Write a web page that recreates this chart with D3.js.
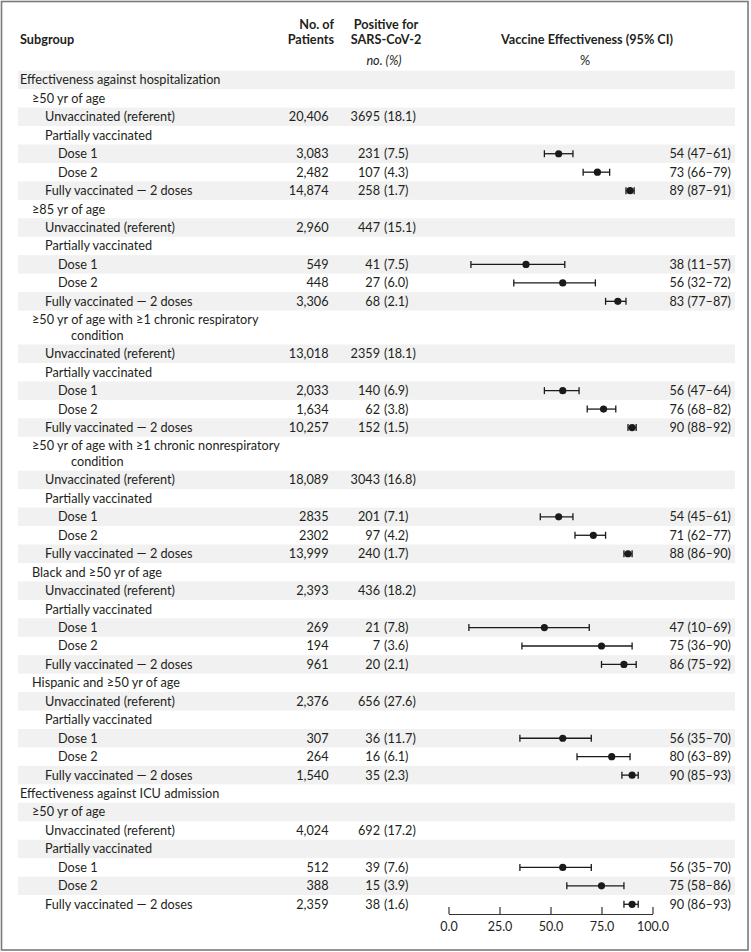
<!DOCTYPE html>
<html><head><meta charset="utf-8">
<script src="https://cdn.jsdelivr.net/npm/d3@7"></script>
<style>
html,body{margin:0;padding:0;background:#fff;}
svg{display:block;font-family:Lato,"Noto Sans",sans-serif;}
</style></head><body>
<svg id="chart" width="751" height="952"></svg>
<script>
// ---------- data ----------
const rowLabels = [
  "Effectiveness against hospitalization",
  "≥50 yr of age",
  "Unvaccinated (referent)", "Partially vaccinated", "Dose 1", "Dose 2", "Fully vaccinated — 2 doses",
  "≥85 yr of age",
  "Unvaccinated (referent)", "Partially vaccinated", "Dose 1", "Dose 2", "Fully vaccinated — 2 doses",
  "≥50 yr of age with ≥1 chronic respiratory\ncondition",
  "Unvaccinated (referent)", "Partially vaccinated", "Dose 1", "Dose 2", "Fully vaccinated — 2 doses",
  "≥50 yr of age with ≥1 chronic nonrespiratory\ncondition",
  "Unvaccinated (referent)", "Partially vaccinated", "Dose 1", "Dose 2", "Fully vaccinated — 2 doses",
  "Black and ≥50 yr of age",
  "Unvaccinated (referent)", "Partially vaccinated", "Dose 1", "Dose 2", "Fully vaccinated — 2 doses",
  "Hispanic and ≥50 yr of age",
  "Unvaccinated (referent)", "Partially vaccinated", "Dose 1", "Dose 2", "Fully vaccinated — 2 doses",
  "Effectiveness against ICU admission",
  "≥50 yr of age",
  "Unvaccinated (referent)", "Partially vaccinated", "Dose 1", "Dose 2", "Fully vaccinated — 2 doses"
];
const rowKinds = [
  "section",
  "group", "status", "status", "dose", "dose", "status",
  "group", "status", "status", "dose", "dose", "status",
  "group", "status", "status", "dose", "dose", "status",
  "group", "status", "status", "dose", "dose", "status",
  "group", "status", "status", "dose", "dose", "status",
  "group", "status", "status", "dose", "dose", "status",
  "section",
  "group", "status", "status", "dose", "dose", "status"
];
const patientCounts = [
  "",
  "", "20,406", "", "3,083", "2,482", "14,874",
  "", "2,960", "", "549", "448", "3,306",
  "", "13,018", "", "2,033", "1,634", "10,257",
  "", "18,089", "", "2835", "2302", "13,999",
  "", "2,393", "", "269", "194", "961",
  "", "2,376", "", "307", "264", "1,540",
  "",
  "", "4,024", "", "512", "388", "2,359"
];
const positiveCounts = [
  null,
  null, 3695, null, 231, 107, 258,
  null, 447, null, 41, 27, 68,
  null, 2359, null, 140, 62, 152,
  null, 3043, null, 201, 97, 240,
  null, 436, null, 21, 7, 20,
  null, 656, null, 36, 16, 35,
  null,
  null, 692, null, 39, 15, 38
];
const positivePct = [
  null,
  null, 18.1, null, 7.5, 4.3, 1.7,
  null, 15.1, null, 7.5, 6.0, 2.1,
  null, 18.1, null, 6.9, 3.8, 1.5,
  null, 16.8, null, 7.1, 4.2, 1.7,
  null, 18.2, null, 7.8, 3.6, 2.1,
  null, 27.6, null, 11.7, 6.1, 2.3,
  null,
  null, 17.2, null, 7.6, 3.9, 1.6
];
const veEstimate = [
  null,
  null, null, null, 54, 73, 89,
  null, null, null, 38, 56, 83,
  null, null, null, 56, 76, 90,
  null, null, null, 54, 71, 88,
  null, null, null, 47, 75, 86,
  null, null, null, 56, 80, 90,
  null,
  null, null, null, 56, 75, 90
];
const veLower = [
  null,
  null, null, null, 47, 66, 87,
  null, null, null, 11, 32, 77,
  null, null, null, 47, 68, 88,
  null, null, null, 45, 62, 86,
  null, null, null, 10, 36, 75,
  null, null, null, 35, 63, 85,
  null,
  null, null, null, 35, 58, 86
];
const veUpper = [
  null,
  null, null, null, 61, 79, 91,
  null, null, null, 57, 72, 87,
  null, null, null, 64, 82, 92,
  null, null, null, 61, 77, 90,
  null, null, null, 69, 90, 92,
  null, null, null, 70, 89, 93,
  null,
  null, null, null, 70, 86, 93
];
const axisTicks = [0, 25, 50, 75, 100];

// ---------- layout ----------
const W = 751, H = 952;
const ink = "#231f20";
const fontSize = 12.7;
const rowH = 18.45, extraLine = 15.5, top0 = 70.7;
const indent = {section: 20, group: 32, status: 45, dose: 58};

const rows = rowLabels.map((label, i) => ({
  lines: label.split("\n"), kind: rowKinds[i], patients: patientCounts[i],
  pos: positiveCounts[i], pct: positivePct[i],
  ve: veEstimate[i], lo: veLower[i], hi: veUpper[i]
}));
let yCursor = top0;
rows.forEach((r, i) => {
  r.top = yCursor;
  r.h = rowH + (r.lines.length - 1) * extraLine;
  yCursor += r.h;
  r.i = i;
});

const x = d3.scaleLinear().domain([0, 100]).range([448.5, 652.5]);

const svg = d3.select("#chart");
svg.append("rect").attr("width", W).attr("height", H).attr("fill", "#fff");

// stripes
svg.append("g").selectAll("rect").data(rows.filter(r => r.i % 2 === 0)).join("rect")
  .attr("x", 18).attr("width", 735 - 18)
  .attr("y", r => r.top).attr("height", r => r.h)
  .attr("fill", "#f1f1f1");

// header
const hdr = svg.append("g").attr("fill", ink).style("font-size", fontSize + "px");
hdr.append("text").attr("x", 20).attr("y", 40).attr("dy", "0.35em").attr("font-weight", 700).text("Subgroup");
hdr.append("text").attr("x", 334).attr("y", 25).attr("dy", "0.35em").attr("font-weight", 700).attr("text-anchor", "end").text("No. of");
hdr.append("text").attr("x", 334).attr("y", 40).attr("dy", "0.35em").attr("font-weight", 700).attr("text-anchor", "end").text("Patients");
hdr.append("text").attr("x", 386).attr("y", 25).attr("dy", "0.35em").attr("font-weight", 700).attr("text-anchor", "middle").text("Positive for");
hdr.append("text").attr("x", 386).attr("y", 40).attr("dy", "0.35em").attr("font-weight", 700).attr("text-anchor", "middle").text("SARS-CoV-2");
hdr.append("text").attr("x", 384).attr("y", 61).attr("dy", "0.35em").attr("font-style", "italic").attr("text-anchor", "middle").text("no. (%)");
hdr.append("text").attr("x", 587).attr("y", 40).attr("dy", "0.35em").attr("font-weight", 700).attr("text-anchor", "middle").text("Vaccine Effectiveness (95% CI)");
hdr.append("text").attr("x", 585).attr("y", 61).attr("dy", "0.35em").attr("text-anchor", "middle").text("%");

// rows
const g = svg.append("g").attr("fill", ink).style("font-size", fontSize + "px");
const rg = g.selectAll("g.row").data(rows).join("g").attr("class", "row");

rg.each(function(r) {
  const sel = d3.select(this);
  const yc = r.top + rowH / 2;
  r.lines.forEach((ln, k) => {
    sel.append("text")
      .attr("x", indent[r.kind] + (k > 0 ? 39 : 0))
      .attr("y", yc + k * extraLine).attr("dy", "0.35em").text(ln);
  });
  if (r.patients) {
    sel.append("text").attr("x", 328.5).attr("y", yc).attr("dy", "0.35em")
      .attr("text-anchor", "end").text(r.patients);
  }
  if (r.pos != null) {
    sel.append("text").attr("x", 380).attr("y", yc).attr("dy", "0.35em")
      .attr("text-anchor", "end").text(r.pos);
    sel.append("text").attr("x", 384).attr("y", yc).attr("dy", "0.35em")
      .text("(" + r.pct.toFixed(1) + ")");
  }
  if (r.ve != null) {
    sel.append("text").attr("x", 731).attr("y", yc).attr("dy", "0.35em")
      .attr("text-anchor", "end").text(`${r.ve} (${r.lo}–${r.hi})`);
    const m = sel.append("g").attr("stroke", "#1a1a1a").attr("stroke-width", 1.3);
    m.append("line").attr("x1", x(r.lo)).attr("x2", x(r.hi)).attr("y1", yc).attr("y2", yc);
    m.append("line").attr("x1", x(r.lo)).attr("x2", x(r.lo)).attr("y1", yc - 3.5).attr("y2", yc + 3.5);
    m.append("line").attr("x1", x(r.hi)).attr("x2", x(r.hi)).attr("y1", yc - 3.5).attr("y2", yc + 3.5);
    sel.append("circle").attr("cx", x(r.ve)).attr("cy", yc).attr("r", 3.6).attr("fill", "#1a1a1a");
  }
});

// axis
const ax = svg.append("g").attr("transform", "translate(0,914)")
  .call(d3.axisBottom(x).tickValues(axisTicks).tickFormat(d3.format(".1f"))
    .tickSizeInner(-7).tickSizeOuter(0).tickPadding(8));
ax.select(".domain").attr("stroke", "#333").attr("stroke-width", 1.2);
ax.selectAll(".tick line").attr("stroke", "#333").attr("stroke-width", 1.2);
ax.selectAll(".tick text").attr("fill", ink).style("font-size", "12.5px")
  .style("font-family", "Lato, 'Noto Sans', sans-serif");

// frame
svg.append("rect").attr("x", 1.5).attr("y", 1.5).attr("width", 746.5).attr("height", 948.5)
  .attr("fill", "none").attr("stroke", "#7a7a7a").attr("stroke-width", 1.6);
</script>
</body></html>
